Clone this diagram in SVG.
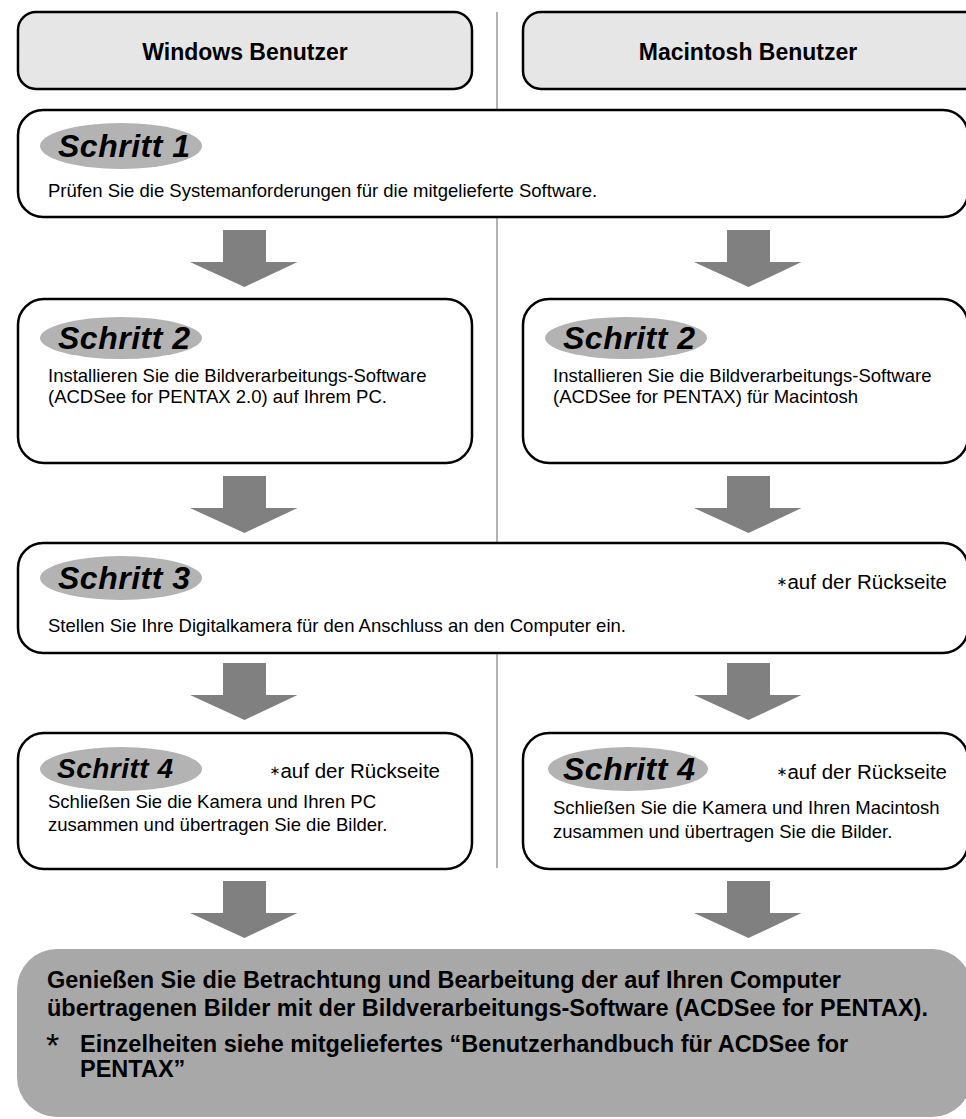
<svg xmlns="http://www.w3.org/2000/svg" width="966" height="1119" viewBox="0 0 966 1119">
<defs>
<style>
.box{fill:#ffffff;stroke:#000;stroke-width:2.5}
.hdr{fill:#e6e6e6;stroke:#000;stroke-width:2.5}
.ell{fill:#b3b3b3}
.arr{fill:#808080}
.step{font-family:"Liberation Sans",Arial,sans-serif;font-weight:bold;font-style:italic;font-size:32px;letter-spacing:0.5px;fill:#000}
.body{font-family:"Liberation Sans",Arial,sans-serif;font-size:18.5px;fill:#000}
.note{font-family:"Liberation Sans","DejaVu Sans",Arial,sans-serif;font-size:20.5px;fill:#000}
.ast{font-family:"DejaVu Sans",sans-serif;font-size:13px}
.htxt{font-family:"Liberation Sans",Arial,sans-serif;font-weight:bold;font-size:23px;fill:#000;text-anchor:middle}
.fin{font-family:"Liberation Sans",Arial,sans-serif;font-weight:bold;font-size:23.5px;fill:#000}
</style>
</defs>
<rect width="966" height="1119" fill="#ffffff"/>
<g id="connectors">
<line x1="497" y1="12" x2="497" y2="868" stroke="#808080" stroke-width="1.2"/>
<path class="arr" d="M223 230h43v32h31.5L244.5 287L190 262h33Z"/>
<path class="arr" d="M727 230h43v32h31.5L748.5 287L694 262h33Z"/>
<path class="arr" d="M223 476h43v32h31.5L244.5 533L190 508h33Z"/>
<path class="arr" d="M727 476h43v32h31.5L748.5 533L694 508h33Z"/>
<path class="arr" d="M223 663h43v32h31.5L244.5 720L190 695h33Z"/>
<path class="arr" d="M727 663h43v32h31.5L748.5 720L694 695h33Z"/>
<path class="arr" d="M223 881h43v32h31.5L244.5 938L190 913h33Z"/>
<path class="arr" d="M727 881h43v32h31.5L748.5 938L694 913h33Z"/>
</g>
<g id="hdr-win">
<rect class="hdr" x="18" y="12" width="454" height="77" rx="18"/>
<text class="htxt" x="245" y="60">Windows Benutzer</text>
</g>
<g id="hdr-mac">
<rect class="hdr" x="523" y="12" width="460" height="77" rx="18"/>
<text class="htxt" x="748" y="60">Macintosh Benutzer</text>
</g>
<g id="step1">
<rect class="box" x="18" y="110" width="950" height="107" rx="25"/>
<ellipse class="ell" cx="121" cy="146" rx="81" ry="23"/>
<text class="step" x="58" y="157">Schritt 1</text>
<text class="body" x="48" y="197">Prüfen Sie die Systemanforderungen für die mitgelieferte Software.</text>
</g>
<g id="step2-win">
<rect class="box" x="18" y="299" width="454" height="164" rx="26"/>
<ellipse class="ell" cx="121" cy="338" rx="81" ry="21"/>
<text class="step" x="58" y="349">Schritt 2</text>
<text class="body" x="48" y="382">Installieren Sie die Bildverarbeitungs-Software</text>
<text class="body" x="48" y="403">(ACDSee for PENTAX 2.0) auf Ihrem PC.</text>
</g>
<g id="step2-mac">
<rect class="box" x="523" y="299" width="445" height="164" rx="26"/>
<ellipse class="ell" cx="626" cy="338" rx="81" ry="21"/>
<text class="step" x="563" y="349">Schritt 2</text>
<text class="body" x="553" y="382">Installieren Sie die Bildverarbeitungs-Software</text>
<text class="body" x="553" y="403">(ACDSee for PENTAX) für Macintosh</text>
</g>
<g id="step3">
<rect class="box" x="18" y="543" width="950" height="110" rx="25"/>
<ellipse class="ell" cx="121" cy="578" rx="81" ry="22"/>
<text class="step" x="58" y="589">Schritt 3</text>
<text class="note" x="947" y="589" text-anchor="end"><tspan class="ast" dy="-3">∗</tspan><tspan dy="3">auf der Rückseite</tspan></text>
<text class="body" x="48" y="632">Stellen Sie Ihre Digitalkamera für den Anschluss an den Computer ein.</text>
</g>
<g id="step4-win">
<rect class="box" x="18" y="733" width="454" height="136" rx="26"/>
<ellipse class="ell" cx="121" cy="769" rx="81" ry="22"/>
<text class="step" x="57" y="778" style="font-size:28px;letter-spacing:0.5px">Schritt 4</text>
<text class="note" x="440" y="778" text-anchor="end"><tspan class="ast" dy="-3">∗</tspan><tspan dy="3">auf der Rückseite</tspan></text>
<text class="body" x="48" y="808">Schließen Sie die Kamera und Ihren PC</text>
<text class="body" x="48" y="831">zusammen und übertragen Sie die Bilder.</text>
</g>
<g id="step4-mac">
<rect class="box" x="523" y="733" width="445" height="136" rx="26"/>
<ellipse class="ell" cx="628" cy="769" rx="80" ry="22"/>
<text class="step" x="563" y="780">Schritt 4</text>
<text class="note" x="947" y="779" text-anchor="end"><tspan class="ast" dy="-3">∗</tspan><tspan dy="3">auf der Rückseite</tspan></text>
<text class="body" x="553" y="814">Schließen Sie die Kamera und Ihren Macintosh</text>
<text class="body" x="553" y="838">zusammen und übertragen Sie die Bilder.</text>
</g>
<g id="final">
<rect x="17" y="949" width="955" height="168" rx="40" fill="#a8a8a8"/>
<text class="fin" x="47" y="988">Genießen Sie die Betrachtung und Bearbeitung der auf Ihren Computer</text>
<text class="fin" x="47" y="1016">übertragenen Bilder mit der Bildverarbeitungs-Software (ACDSee for PENTAX).</text>
<text x="46" y="1057" style="font-family:'Liberation Sans',Arial,sans-serif;font-size:34px;fill:#000">*</text>
<text class="fin" x="80" y="1052">Einzelheiten siehe mitgeliefertes “Benutzerhandbuch für ACDSee for</text>
<text class="fin" x="80" y="1077">PENTAX”</text>
</g>
</svg>
